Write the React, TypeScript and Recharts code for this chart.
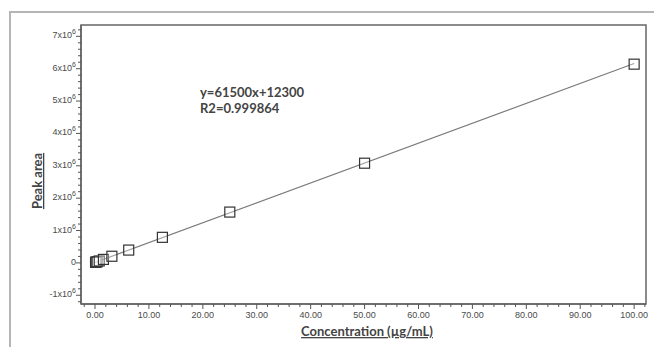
import React from "react";
import { ComposedChart, Scatter, Line, XAxis, YAxis, ReferenceArea } from "recharts";

// calibration standards
const concentration = [0.1, 0.2, 0.39, 0.78, 1.56, 3.13, 6.25, 12.5, 25, 50, 100];
const peakArea = [18000, 25000, 36000, 60000, 108000, 205000, 396000, 790000, 1570000, 3080000, 6140000];

const slope = 61500;
const intercept = 12300;
const fitRange = [0, 100];

const xMajorTicks = [0, 10, 20, 30, 40, 50, 60, 70, 80, 90, 100];
const yMajorTicks = [-1, 0, 1, 2, 3, 4, 5, 6, 7];

const X_DOMAIN = [-2.6, 102.2];
const Y_DOMAIN = [-1270000, 7350000];

const xTicks: number[] = [];
for (let i = -1; i <= 51; i++) xTicks.push(i * 2);
const yTicks: number[] = [];
for (let i = -6; i <= 36; i++) yTicks.push(i * 200000);

const points = concentration.map((c, i) => ({ x: c, y: peakArea[i] }));
const fitLine = fitRange.map((x) => ({ x, fit: slope * x + intercept }));

const tickColor = "#555";
const labelColor = "#4a4a4a";

const XTick = (props: any) => {
  const { x, y, payload } = props;
  const v = payload.value;
  const major = xMajorTicks.includes(v);
  return (
    <g>
      <line x1={x} x2={x} y1={y} y2={y + (major ? 5 : 3)} stroke={tickColor} strokeWidth={1} />
      {major && (
        <text x={x} y={y + 14} textAnchor="middle" fontSize={9} fontFamily="Liberation Sans, Arial" fill={labelColor}>
          {v.toFixed(2)}
        </text>
      )}
    </g>
  );
};

const YTick = (props: any) => {
  const { x, y, payload } = props;
  const v = Math.round(payload.value / 100000) / 10;
  const major = yMajorTicks.includes(v);
  return (
    <g>
      <line x1={x} x2={x - (major ? 5 : 3)} y1={y} y2={y} stroke={tickColor} strokeWidth={1} />
      {major && (
        <text x={x - 5} y={y + 2} textAnchor="end" fontSize={9} fontFamily="Liberation Sans, Arial" fill={labelColor}>
          {v === 0 ? (
            "0"
          ) : (
            <>
              {v}x10
              <tspan dy={-4} fontSize={7}>
                6
              </tspan>
            </>
          )}
        </text>
      )}
    </g>
  );
};

const Square = (props: any) => {
  const { cx, cy } = props;
  return <rect x={cx - 5} y={cy - 5} width={10} height={10} fill="#fff" fillOpacity={0.3} stroke="#333" strokeWidth={1.2} />;
};

export default function App() {
  return (
    <div style={{ position: "absolute", left: 0, top: 0, width: 654, height: 347, background: "#fff" }}>
      <div
        style={{
          position: "absolute",
          left: 9,
          top: 11,
          right: 0,
          bottom: 0,
          borderTop: "2px solid #b5b5b5",
          borderLeft: "2px solid #b5b5b5",
        }}
      />
      <div style={{ position: "absolute", left: 0, top: 0 }}>
        <ComposedChart width={654} height={347} margin={{ top: 25, right: 8, bottom: 0, left: 0 }}>
          <XAxis
            dataKey="x"
            type="number"
            domain={X_DOMAIN}
            ticks={xTicks}
            interval={0}
            allowDataOverflow
            height={43}
            tickLine={false}
            tickSize={0}
            tickMargin={0}
            axisLine={{ stroke: "#666", strokeWidth: 1.5 }}
            tick={<XTick />}
          />
          <YAxis
            type="number"
            domain={Y_DOMAIN}
            ticks={yTicks}
            interval={0}
            allowDataOverflow
            width={81}
            tickLine={false}
            tickSize={0}
            tickMargin={0}
            axisLine={{ stroke: "#666", strokeWidth: 1.5 }}
            tick={<YTick />}
          />
          <ReferenceArea
            x1={X_DOMAIN[0]}
            x2={X_DOMAIN[1]}
            y1={Y_DOMAIN[0]}
            y2={Y_DOMAIN[1]}
            fill="none"
            stroke="#666"
            strokeWidth={1.5}
          />
          <Line
            data={fitLine}
            dataKey="fit"
            type="linear"
            stroke="#7a7a7a"
            strokeWidth={1.2}
            dot={false}
            isAnimationActive={false}
          />
          <Scatter data={points} dataKey="y" shape={<Square />} isAnimationActive={false} />
        </ComposedChart>
      </div>
      <svg width={654} height={347} style={{ position: "absolute", left: 0, top: 0, pointerEvents: "none" }}>
        <text x={200} y={97} fontSize={13} fontWeight="bold" fontFamily="Lato" fill="#444">
          y=61500x+12300
        </text>
        <text x={200} y={113} fontSize={13} fontWeight="bold" fontFamily="Lato" fill="#444">
          R2=0.999864
        </text>
        <text
          x={367}
          y={336}
          textAnchor="middle"
          fontSize={13}
          fontWeight="bold"
          fontFamily="Lato"
          fill="#444"
          textDecoration="underline"
        >
          Concentration (µg/mL)
        </text>
        <text
          x={0}
          y={0}
          transform="translate(42,181) rotate(-90)"
          textAnchor="middle"
          fontSize={13}
          fontWeight="bold"
          fontFamily="Lato"
          fill="#444"
          textDecoration="underline"
        >
          Peak area
        </text>
      </svg>
    </div>
  );
}
